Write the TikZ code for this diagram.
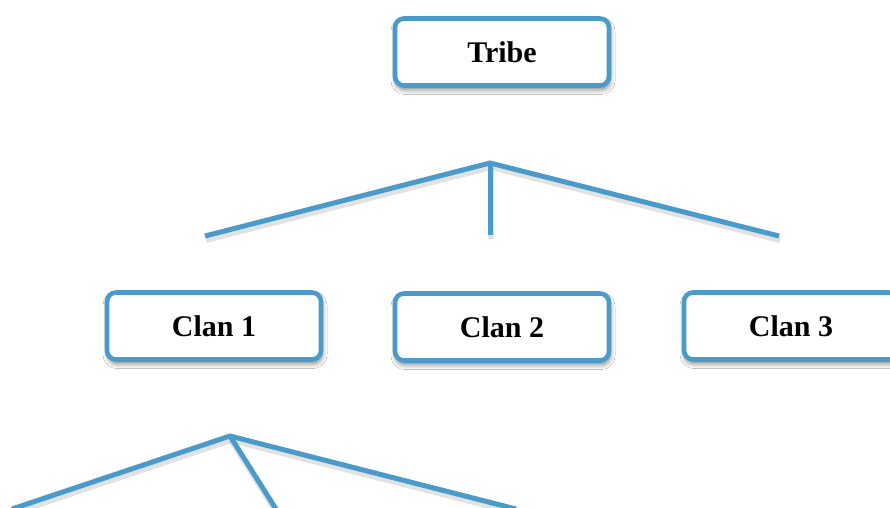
\documentclass[tikz,border=0pt]{standalone}
\usepackage{fontspec}
\setmainfont{Liberation Serif}
\usetikzlibrary{shadows.blur}
\definecolor{tblue}{RGB}{74,155,201}
\tikzset{
  box/.style={draw=tblue, line width=4.6pt, fill=white, rounded corners=9pt,
    minimum width=214pt, minimum height=67pt, inner sep=0pt,
    font=\fontsize{30}{33}\selectfont\bfseries,
    blur shadow={shadow xshift=1pt, shadow yshift=-4pt, shadow blur steps=8, shadow blur radius=5pt, shadow opacity=50}},
  conn/.style={draw=tblue, line width=5pt},
  connshadow/.style={draw=black!45, line width=6pt, opacity=0.25, transform canvas={xshift=1pt, yshift=-4pt}}
}
\begin{document}
\begin{tikzpicture}[x=1pt, y=-1pt]
\useasboundingbox (0,0) rectangle (890,507);
\fill[white] (0,0) rectangle (890,507);
% coordinates for connector lines
\coordinate (a1) at (490,163);
\coordinate (a1l) at (205,236);
\coordinate (a1m) at (490,235);
\coordinate (a1r) at (779,236);
\coordinate (a2) at (230,436);
\coordinate (a2l) at (12,509);
\coordinate (a2m) at (276,509);
\coordinate (a2r) at (516,509);
% shadows of lines
\draw[connshadow] (a1l) -- (a1) -- (a1r);
\draw[connshadow] (a1) -- (a1m);
\draw[connshadow] (a2l) -- (a2) -- (a2r);
\draw[connshadow] (a2) -- (a2m);
% lines
\draw[conn, line join=miter] (a1l) -- (a1) -- (a1r);
\draw[conn] (a1) -- (a1m);
\draw[conn, line join=miter] (a2l) -- (a2) -- (a2r);
\draw[conn] (a2) -- (a2m);
% boxes
\node[box] (tribe) at (502,52) {\raisebox{-2pt}{Tribe}};
\node[box] (clan1) at (214,326) {Clan 1};
\node[box] (clan2) at (502,327) {\raisebox{-2pt}{Clan 2}};
\node[box] (clan3) at (791,326) {\raisebox{-2pt}{Clan 3}};
\end{tikzpicture}
\end{document}
